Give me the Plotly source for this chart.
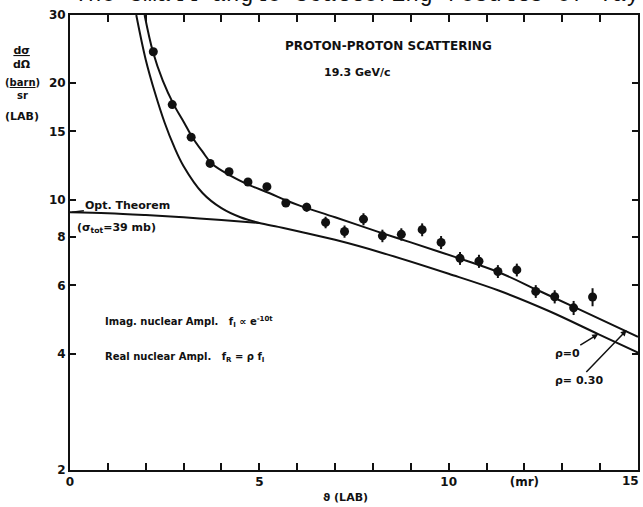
import math
import plotly.graph_objects as go

# ---- data ----
theta_data = [2.2, 2.7, 3.2, 3.7, 4.2, 4.7, 5.2, 5.7, 6.25, 6.75, 7.25, 7.75, 8.25, 8.75,
              9.3, 9.8, 10.3, 10.8, 11.3, 11.8, 12.3, 12.8, 13.3, 13.8]
xsec_data = [24.1, 17.6, 14.5, 12.4, 11.8, 11.1, 10.8, 9.8, 9.56, 8.73, 8.27, 8.90, 8.06, 8.13,
             8.36, 7.75, 7.05, 6.93, 6.52, 6.58, 5.79, 5.61, 5.25, 5.60]
xsec_err = [0.3, 0.25, 0.2, 0.18, 0.17, 0.16, 0.16, 0.2, 0.25, 0.3, 0.3, 0.32, 0.3, 0.3,
            0.32, 0.3, 0.27, 0.27, 0.25, 0.25, 0.22, 0.22, 0.22, 0.3]

# rho = 0.30 curve (upper)
theta_rho030 = [1.97, 2.19, 2.45, 2.74, 3.0, 3.23, 3.5, 3.74, 4.26, 4.74, 5.26, 5.7, 6.05,
                7.0, 8.16, 9.0, 10.18, 11.32, 12.37, 13.42, 15.0]
xsec_rho030 = [30.0, 24.1, 20.3, 17.6, 15.9, 14.5, 13.3, 12.4, 11.5, 10.9, 10.4, 9.96, 9.66,
               9.0, 8.24, 7.75, 7.10, 6.49, 5.82, 5.22, 4.42]

# rho = 0 curve (lower)
theta_rho0 = [1.75, 2.0, 2.25, 2.5, 2.75, 3.0, 3.5, 4.0, 4.5, 5.0, 5.5, 6.05,
              7.0, 8.25, 10.0, 11.32, 12.63, 13.95, 15.0]
xsec_rho0 = [30.0, 23.0, 18.8, 15.8, 13.7, 12.2, 10.4, 9.5, 9.0, 8.7, 8.5, 8.27,
             7.87, 7.28, 6.43, 5.82, 5.16, 4.49, 4.02]

# optical theorem line
theta_opt = [0.0, 1.0, 2.0, 3.0, 4.0, 5.0]
xsec_opt = [9.27, 9.22, 9.12, 9.0, 8.85, 8.7]

x_tickvals = list(range(0, 16))
x_ticktext = ["0", "", "", "", "", "5", "", "", "", "", "10", "", "(mr)", "", "", ""]
x_last_label = "15"
y_tickvals = [2, 4, 6, 8, 10, 15, 20, 30]
y_ticktext = ["2", "4", "6", "8", "10", "15", "20", "30"]

# ---- layout geometry (pixels) ----
W, H = 643, 507
ML, MR, MT, MB = 70, 3, 15, 37
PW, PH = W - ML - MR, H - MT - MB


def px(x):
    return (x - ML) / PW


def py(y):
    return (H - MB - y) / PH


INK = "#111111"
FONT = "DejaVu Sans"

fig = go.Figure()
line_style = dict(color=INK, width=2)

fig.add_trace(go.Scatter(x=theta_opt, y=xsec_opt, mode="lines", line=line_style,
                         line_shape="spline", showlegend=False, hoverinfo="skip"))
fig.add_trace(go.Scatter(x=theta_rho0, y=xsec_rho0, mode="lines", line=line_style,
                         line_shape="spline", showlegend=False, hoverinfo="skip"))
fig.add_trace(go.Scatter(x=theta_rho030, y=xsec_rho030, mode="lines", line=line_style,
                         line_shape="spline", showlegend=False, hoverinfo="skip"))
fig.add_trace(go.Scatter(
    x=theta_data, y=xsec_data, mode="markers",
    marker=dict(color=INK, size=9),
    error_y=dict(type="data", array=xsec_err, color=INK, thickness=2, width=0),
    showlegend=False))

fig.update_layout(
    width=W, height=H,
    margin=dict(l=ML, r=MR, t=MT, b=MB, pad=0),
    paper_bgcolor="white", plot_bgcolor="white",
    font=dict(family=FONT, color=INK, size=12),
    xaxis=dict(range=[0, 15], tickvals=x_tickvals, ticktext=x_ticktext,
               ticks="inside", ticklen=7, tickwidth=1.5, tickcolor=INK,
               showline=True, linecolor=INK, linewidth=2, mirror="ticks",
               showgrid=False, zeroline=False,
               tickfont=dict(size=12, family=FONT, weight="bold")),
    yaxis=dict(type="log", range=[math.log10(2), math.log10(30)],
               tickvals=y_tickvals, ticktext=y_ticktext,
               ticks="inside", ticklen=6, tickwidth=1.5, tickcolor=INK,
               showline=True, linecolor=INK, linewidth=2, mirror="ticks",
               showgrid=False, zeroline=False,
               tickfont=dict(size=12, family=FONT, weight="bold")),
)


def text(x, y, s, size=11, bold=True, xanchor="center", family=FONT):
    fig.add_annotation(x=px(x), y=py(y), xref="paper", yref="paper", text=s,
                       showarrow=False, xanchor=xanchor, yanchor="middle",
                       font=dict(size=size, family=family, color=INK,
                                 weight="bold" if bold else "normal"))


def pointer(xd, yd, s, ax, ay, head=0):
    # annotation pointing at a data location (log axis needs log10 y)
    fig.add_annotation(x=xd, y=math.log10(yd), xref="x", yref="y", text=s,
                       showarrow=True, arrowhead=head, arrowsize=0.8, arrowwidth=1.5,
                       arrowcolor=INK, ax=ax, ay=ay, standoff=0,
                       font=dict(size=11, family=FONT, color=INK, weight="bold"))


# clipped typewritten line at the very top of the scan
fig.add_annotation(x=px(72), y=1, xref="paper", yref="paper", yshift=20,
                   text="The small angle scattering results of Taylor",
                   showarrow=False, xanchor="left", yanchor="middle",
                   font=dict(size=23, family="Liberation Mono", color=INK))

# last x tick label (sits at the right edge of the frame)
fig.add_annotation(x=1, y=0, xref="paper", yref="paper", yshift=-11, xshift=3,
                   text=x_last_label, showarrow=False, xanchor="right", yanchor="middle",
                   font=dict(size=12, family=FONT, color=INK, weight="bold"))

text(390, 46, "PROTON-PROTON SCATTERING", size=12)
text(359, 72, "19.3 GeV/c", size=11)

# y-axis title block
text(22, 57, "<u>dσ</u><br>dΩ", size=11)
text(22, 89, "(<u>barn</u>)<br>sr", size=10)
text(22, 116, "(LAB)", size=11)

# x-axis title
text(346, 497, "ϑ (LAB)", size=11)

# optical theorem label with leader
pointer(0.05, 9.27, "Opt. Theorem", 56, -7)
text(117, 228, "(σ<sub>tot</sub>=39 mb)", size=11)

text(103, 322, "Imag. nuclear Ampl.   f<sub>I</sub> ∝ e<sup>-10t</sup>", size=10,
     xanchor="left")
text(103, 357, "Real nuclear Ampl.   f<sub>R</sub> = ρ f<sub>I</sub>", size=10,
     xanchor="left")

# rho labels with arrows
pointer(13.95, 4.49, "ρ=0", -31, 19, head=2)
pointer(14.7, 4.6, "ρ= 0.30", -48, 50, head=2)

fig.write_html("out.html")
